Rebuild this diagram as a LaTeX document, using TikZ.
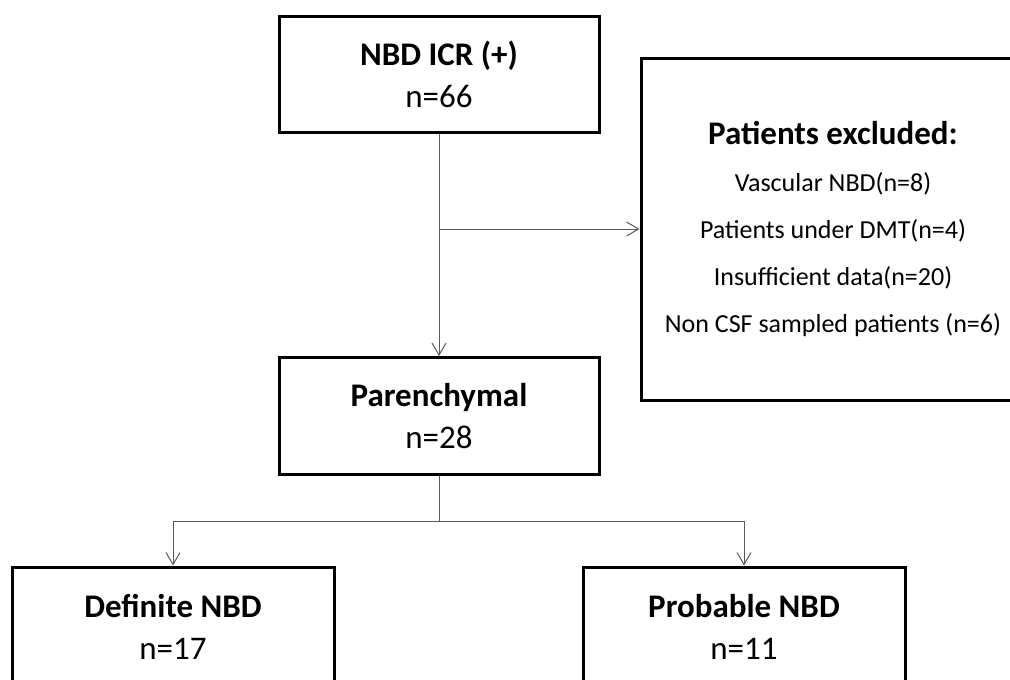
\documentclass[tikz,border=0pt]{standalone}
\usepackage{fontspec}
\setmainfont{Carlito}
\usetikzlibrary{arrows.meta}

\begin{document}
\begin{tikzpicture}[x=1pt, y=-1pt,
    box/.style={draw, line width=3pt, align=center, inner sep=0pt,
      font=\fontsize{33}{42}\selectfont},
    link/.style={draw=black!65, line width=1pt},
    arr/.style={link, -{Straight Barb[length=12pt, width=14pt, line width=1pt]}}]
  \useasboundingbox (0,0) rectangle (1010,680);

  % boxes
  \node[box, minimum width=320, minimum height=116] (icr) at (439,74)
    {\textbf{NBD ICR (+)}\\n=66};
  \node[box, minimum width=384, minimum height=342,
    font=\fontsize{26}{47}\selectfont] (excl) at (833,229)
    {{\bfseries\fontsize{33}{47}\selectfont Patients excluded:}\\
     Vascular NBD(n=8)\\
     Patients under DMT(n=4)\\
     Insufficient data(n=20)\\
     Non CSF sampled patients (n=6)};
  \node[box, minimum width=320, minimum height=117] (par) at (439,416)
    {\textbf{Parenchymal}\\n=28};
  \node[box, minimum width=322, minimum height=120] (defn) at (173,627)
    {\textbf{Definite NBD}\\n=17};
  \node[box, minimum width=322, minimum height=120] (prob) at (744,627)
    {\textbf{Probable NBD}\\n=11};

  % connectors
  \coordinate (jn) at (icr.south |- excl.west);
  \coordinate (split) at (439,521);
  \draw[arr] (icr) -- (par);
  \draw[arr] (jn) -- (excl.west);
  \draw[link] (par) -- (split);
  \draw[arr] (split) -| (defn);
  \draw[arr] (split) -| (prob);
\end{tikzpicture}
\end{document}
